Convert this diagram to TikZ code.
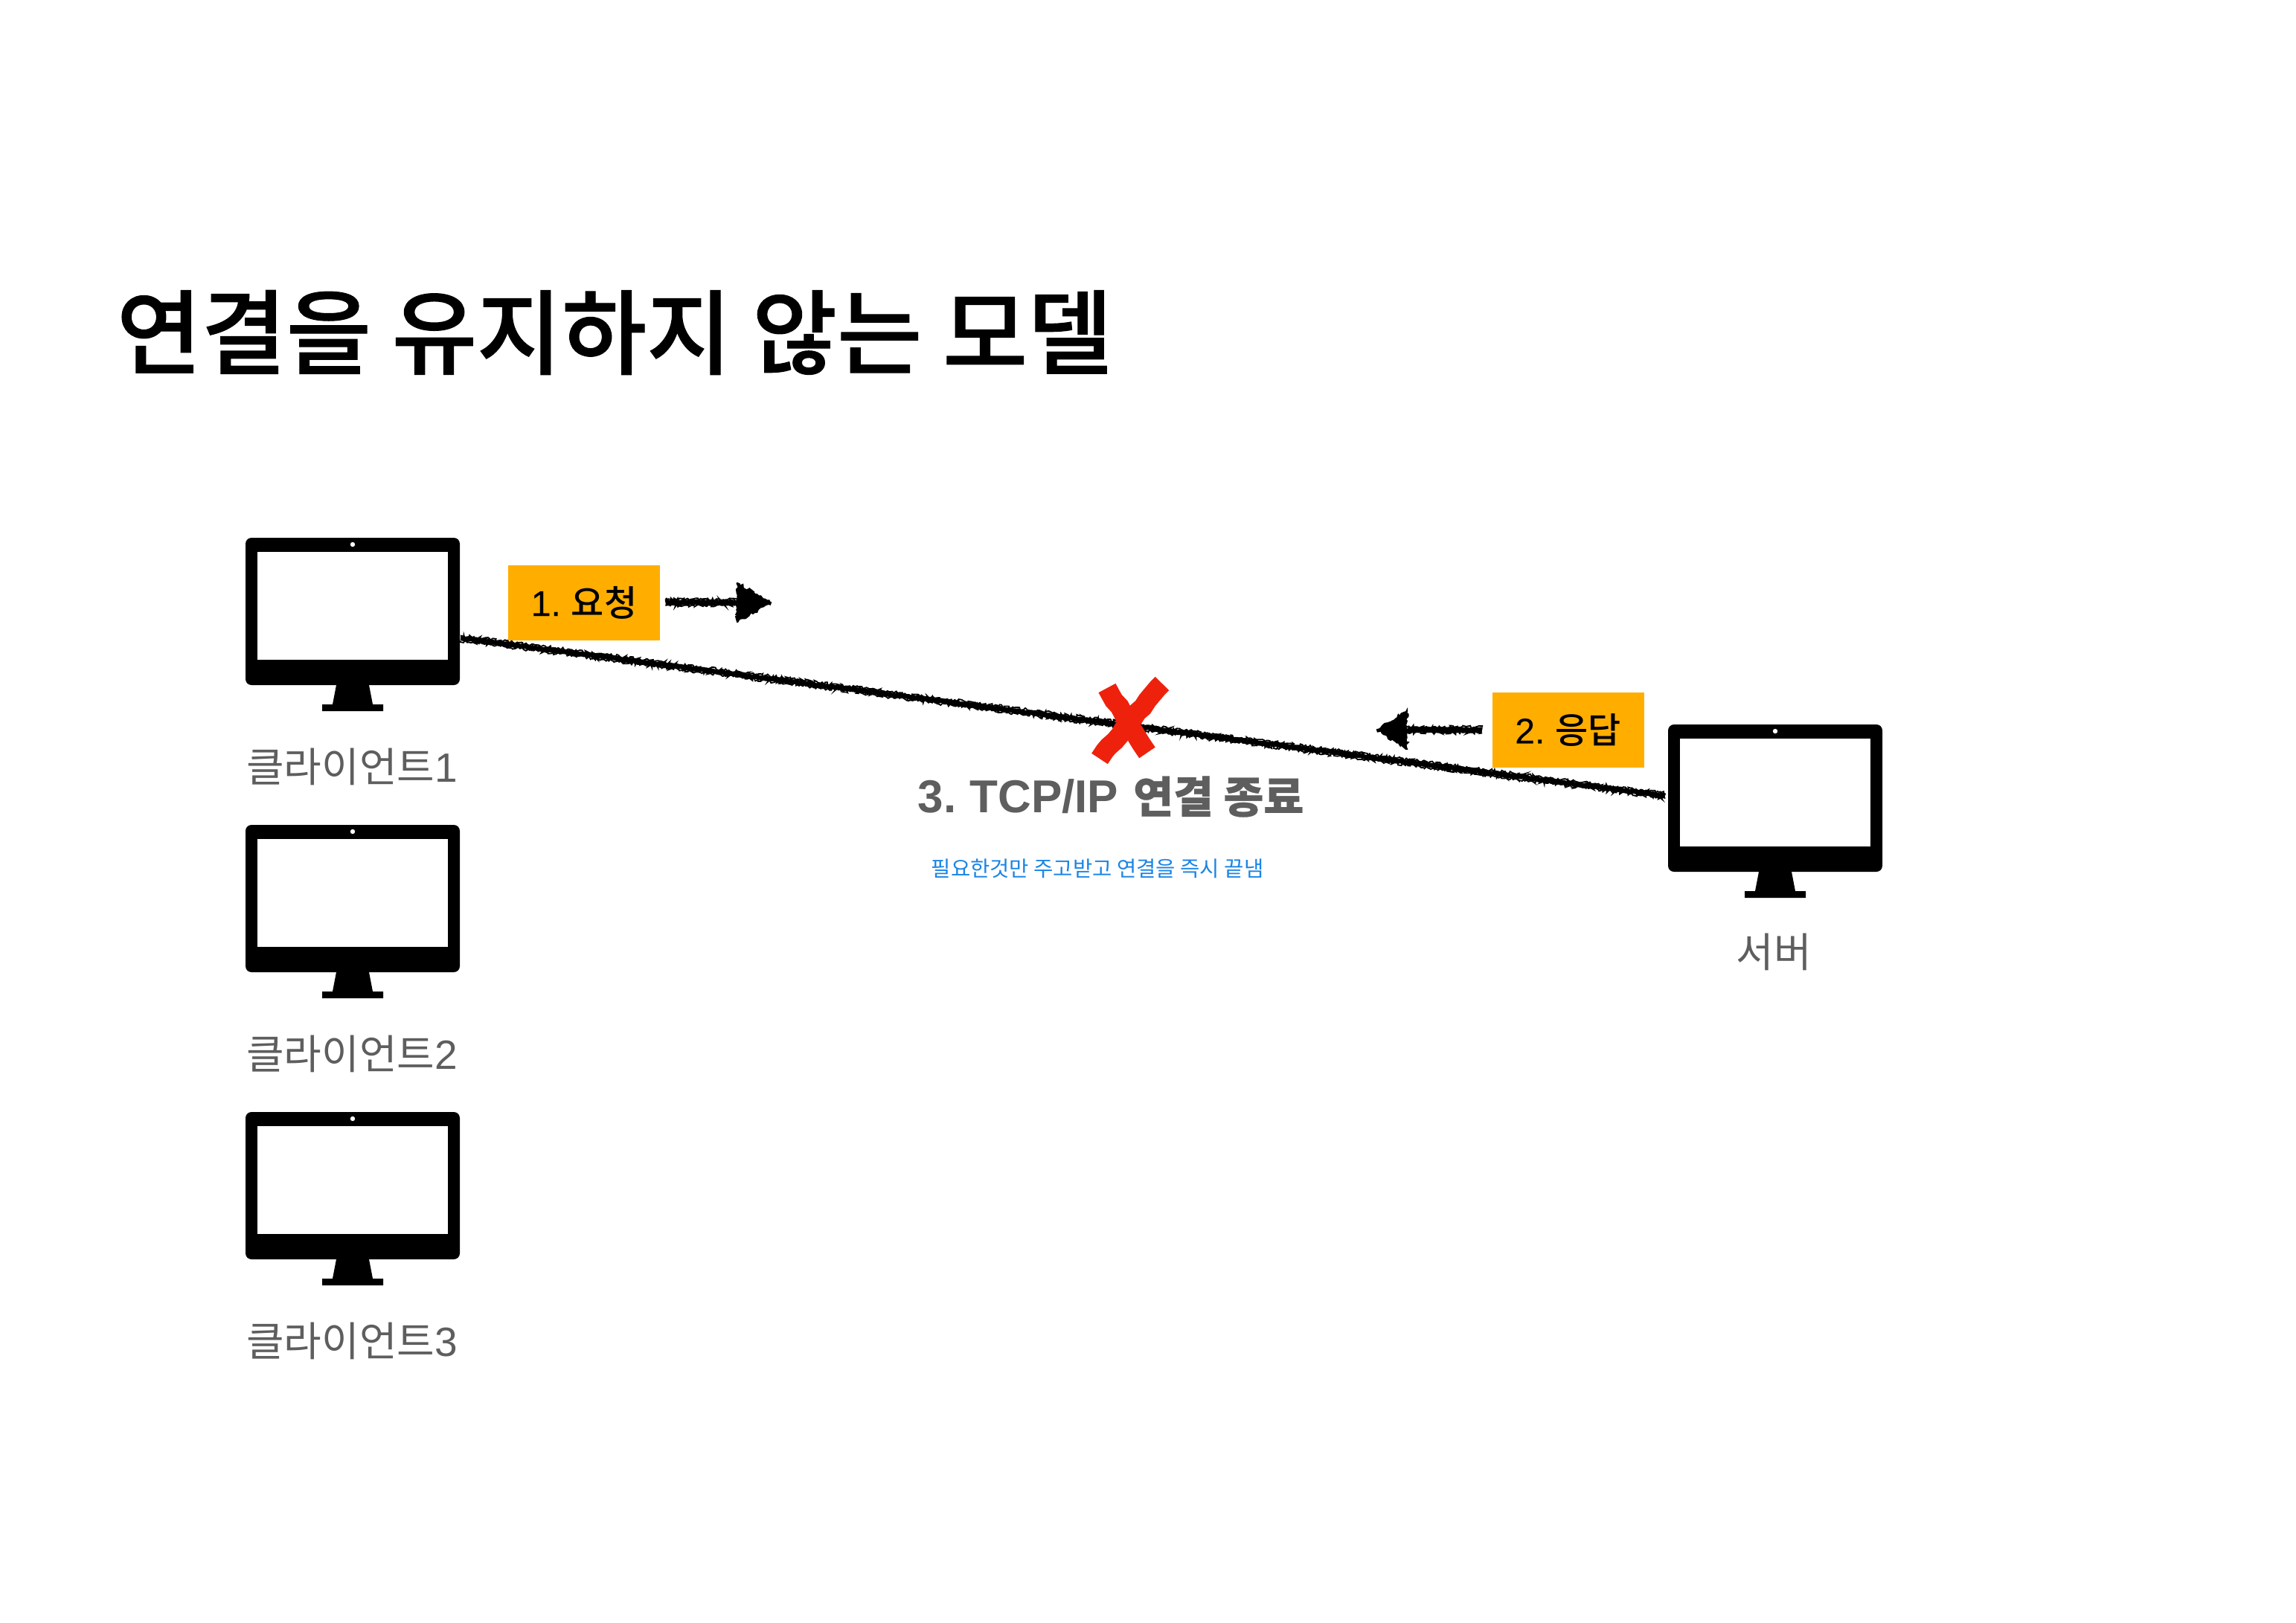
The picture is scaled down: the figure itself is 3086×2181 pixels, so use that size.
\documentclass[tikz,border=0pt]{standalone}
\usepackage{fontspec}
\usetikzlibrary{decorations.pathmorphing}
\setmainfont{Liberation Sans}
\newfontfamily\kr{Noto Sans CJK KR}
\newfontfamily\krmed{Noto Sans CJK KR Medium}
\newfontfamily\krtitle[FakeBold=0.9]{Noto Sans CJK KR Medium}
\newfontfamily\krsub[FakeBold=0.5]{Noto Sans CJK KR Medium}
\newfontfamily\latmed[FakeBold=0.35]{Liberation Sans}
\definecolor{labelgrey}{HTML}{5E5E5E}
\definecolor{stepyellow}{HTML}{FFAE00}
\definecolor{crossred}{HTML}{EE220C}
\definecolor{noteblue}{HTML}{1A85E6}
\newcommand{\fs}[1]{\fontsize{#1pt}{#1pt}\selectfont}
\tikzset{
  x=0.5pt,y=-0.5pt,
  chalk/.style={draw=black,line width=#1,line cap=butt,decorate,
    decoration={random steps,segment length=1pt,amplitude=.45pt}},
  chalkedge/.style={draw=black,line width=.9pt,line cap=butt,decorate,
    decoration={random steps,segment length=.9pt,amplitude=1pt}},
  chalkfill/.style={fill=black,draw=black,line width=1pt,decorate,
    decoration={random steps,segment length=1.4pt,amplitude=1pt}},
  crossstroke/.style={draw=crossred,line width=13pt,decorate,
    decoration={random steps,segment length=5pt,amplitude=.7pt}},
  stepbox/.style={fill=stepyellow,minimum width=102pt,minimum height=50.5pt,inner sep=0pt,text=black,font=\fs{24}\krmed},
  devlabel/.style={text=labelgrey,inner sep=0pt,font=\fs{27.5}\kr},
  monitor/.pic={
    \path[fill=black,rounded corners=4pt] (0,0) rectangle (288,198);
    \path[fill=white] (16,19) rectangle (272,164);
    \path[fill=white] (144,9) circle (1.6pt);
    \path[fill=black] (122,198) -- (166,198) -- (171,224) -- (185,224) -- (185,233)
      -- (103,233) -- (103,224) -- (117,224) -- cycle;
    \coordinate (-right) at (289,135);
    \coordinate (-left) at (-4,96);
  }
}
\begin{document}
\begin{tikzpicture}
\pgfmathsetseed{11}
\useasboundingbox[fill=white] (0,0) rectangle (3086,2181);

\node[anchor=center,inner sep=0pt,font=\fs{62}\krtitle] (title) at (826,447) {연결을 유지하지 않는 모델};

\pic (c1) at (330,723) {monitor};
\pic (c2) at (330,1109) {monitor};
\pic (c3) at (330,1495) {monitor};
\pic (srv) at (2242,974) {monitor};

\node[devlabel] (c1l) at (473,1031) {클라이언트{\fontspec{Liberation Sans}1}};
\node[devlabel] (c2l) at (473,1417) {클라이언트{\fontspec{Liberation Sans}2}};
\node[devlabel] (c3l) at (473,1803) {클라이언트{\fontspec{Liberation Sans}3}};
\node[devlabel] (srvl) at (2384,1280) {서버};

\draw[chalk=3.2pt] (c1-right) -- (srv-left);
\foreach \off in {-1.8,1.8}{
  \draw[chalkedge,transform canvas={yshift=\off pt}] (c1-right) -- (srv-left);
}

\node[stepbox] (box1) at (785,810) {{\latmed 1.\kern 7pt}요청};
\node[stepbox] (box2) at (2107.5,981.5) {{\latmed 2.\kern 7pt}응답};

\coordinate (a1head) at (991,810);
\coordinate (a2head) at (1891,981);
\draw[chalk=3.6pt] ([xshift=3.5pt]box1.east) -- (a1head);
\draw[chalkedge,transform canvas={yshift=2pt}] ([xshift=3.5pt]box1.east) -- (a1head);
\draw[chalkedge,transform canvas={yshift=-2pt}] ([xshift=3.5pt]box1.east) -- (a1head);
\draw[chalkfill] (991,784) -- (1036,810) -- (991,836) -- cycle;
\draw[chalk=3.6pt] ([xshift=-6.5pt]box2.west) -- (a2head);
\draw[chalkedge,transform canvas={yshift=2pt}] ([xshift=-6.5pt]box2.west) -- (a2head);
\draw[chalkedge,transform canvas={yshift=-2pt}] ([xshift=-6.5pt]box2.west) -- (a2head);
\draw[chalkfill] (1891,955) -- (1851,981) -- (1891,1007) -- cycle;

\draw[crossstroke] (1562,919) -- (1478,1020);
\draw[crossstroke] (1488,925) -- (1542,1012);

\node[inner sep=0pt,text=labelgrey,font=\fs{31}\bfseries] (tcp) at (1493,1071) {3.\kern 9pt TCP/IP\kern 10pt{\fs{29.3}\krsub 연결 종료}};
\node[inner sep=0pt,text=noteblue,font=\fs{14.3}\kr] (note) at (1475,1168) {필요한것만 주고받고 연결을 즉시 끝냄};
\end{tikzpicture}
\end{document}
